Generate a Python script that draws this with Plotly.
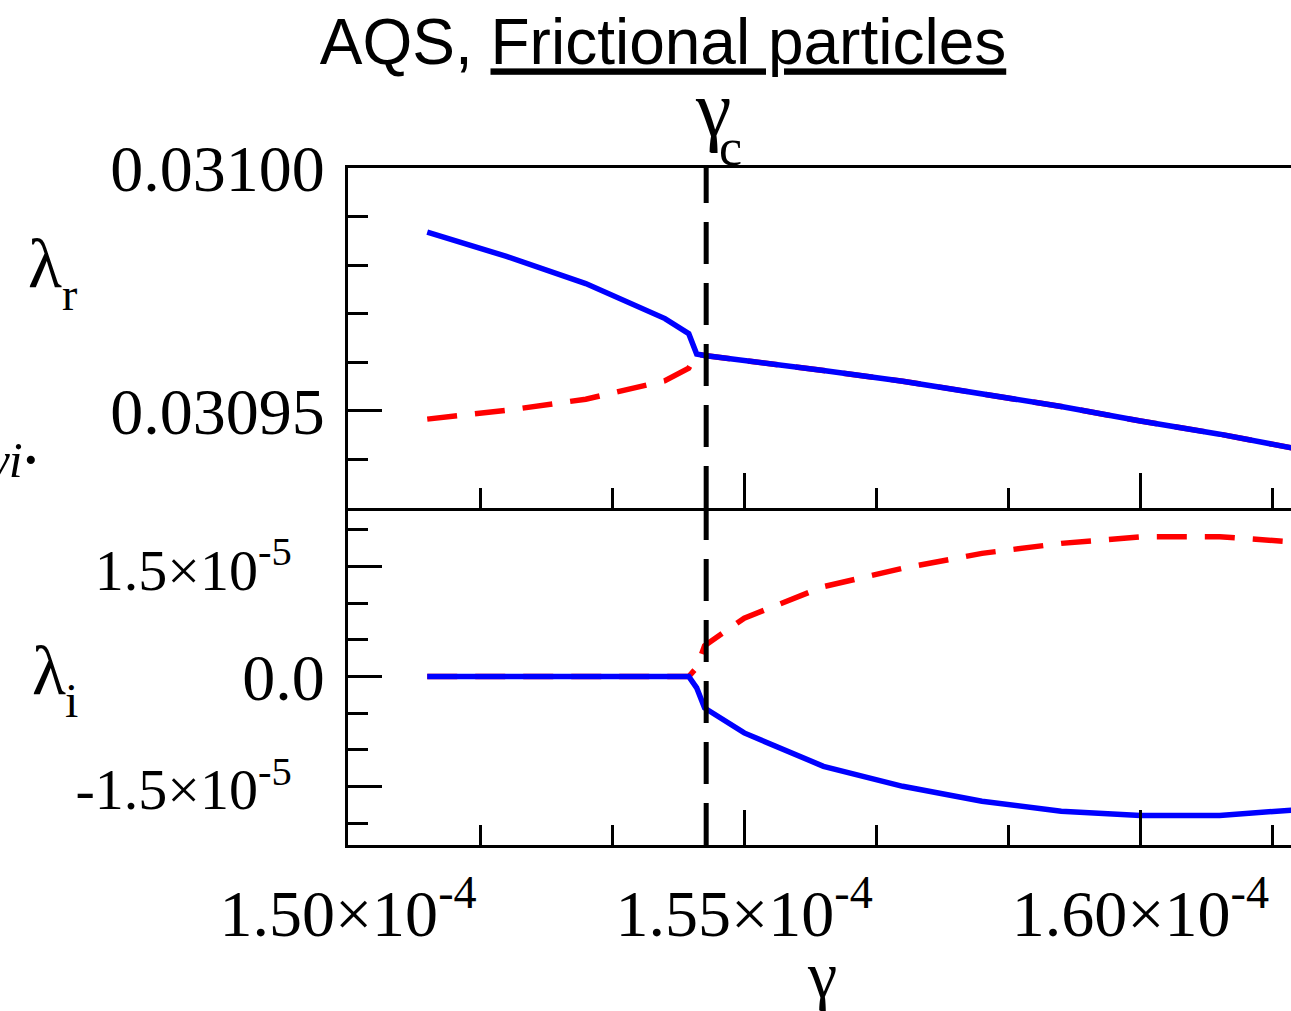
import plotly.graph_objects as go

# ---- data ----
gamma = [1.51e-4, 1.52e-4, 1.53e-4, 1.54e-4, 1.543e-4, 1.544e-4, 1.545e-4,
         1.55e-4, 1.56e-4, 1.57e-4, 1.58e-4, 1.59e-4, 1.60e-4, 1.61e-4, 1.62e-4]

lam_r_blue = [0.0309868, 0.0309818, 0.0309762, 0.0309690, 0.0309659, 0.0309617, 0.0309614,
              0.0309604, 0.0309583, 0.0309561, 0.0309536, 0.0309509, 0.0309479, 0.0309452, 0.0309421]
lam_r_red = [0.0309483, 0.0309501, 0.0309524, 0.0309562, 0.0309588, 0.0309617, 0.0309614,
             0.0309604, 0.0309583, 0.0309561, 0.0309536, 0.0309509, 0.0309479, 0.0309452, 0.0309421]

lam_i_blue = [0, 0, 0, 0, 0, -1.55e-6, -4.3e-6,
              -7.7e-6, -1.226e-5, -1.499e-5, -1.703e-5, -1.839e-5, -1.898e-5, -1.898e-5, -1.816e-5]
lam_i_red = [0, 0, 0, 0, 0, 1.2e-6, 4.2e-6,
             7.96e-6, 1.226e-5, 1.477e-5, 1.681e-5, 1.817e-5, 1.907e-5, 1.907e-5, 1.831e-5]

gamma_c = 1.5452e-4

x_tickvals = [1.50e-4, 1.55e-4, 1.60e-4]
x_ticktext = ["1.50×10<sup>-4</sup>", "1.55×10<sup>-4</sup>", "1.60×10<sup>-4</sup>"]
yi_tickvals = [-1.5e-5, 0.0, 1.5e-5]
yi_ticktext = ['<span style="font-size:58px">-1.5×10<sup>-5</sup></span>&nbsp;&nbsp;',
               "0.0",
               '<span style="font-size:58px">1.5×10<sup>-5</sup></span>&nbsp;&nbsp;']

SERIF = "Liberation Serif, Times New Roman, serif"
SANS = "Liberation Sans, Arial, sans-serif"
FS = 66

fig = go.Figure()

# top panel (lambda_r)
fig.add_trace(go.Scatter(x=gamma, y=lam_r_red, mode="lines", xaxis="x2", yaxis="y2",
                         line=dict(color="#ff0000", width=5.5, dash="30px,18px")))
fig.add_trace(go.Scatter(x=gamma, y=lam_r_blue, mode="lines", xaxis="x2", yaxis="y2",
                         line=dict(color="#0000ff", width=5.5)))
# bottom panel (lambda_i)
fig.add_trace(go.Scatter(x=gamma, y=lam_i_red, mode="lines", xaxis="x", yaxis="y",
                         line=dict(color="#ff0000", width=5.5, dash="30px,18px")))
fig.add_trace(go.Scatter(x=gamma, y=lam_i_blue, mode="lines", xaxis="x", yaxis="y",
                         line=dict(color="#0000ff", width=5.5)))

H_TOP, H_BOT = 340, 337
split = H_BOT / (H_TOP + H_BOT)
xr = [1.50e-4, 1.619e-4]

common_axis = dict(showline=True, linewidth=3, linecolor="black", showgrid=False,
                   zeroline=False, ticks="inside", tickwidth=3, tickcolor="black",
                   automargin=False)

fig.update_layout(
    width=1291, height=1011,
    margin=dict(l=348, r=0, t=168, b=166),
    plot_bgcolor="white", paper_bgcolor="white",
    showlegend=False,
    title=dict(text="AQS, <u>Frictional particles</u>", x=663 / 1291, xanchor="center",
               xref="container", y=1 - 42 / 1011, yanchor="middle", yref="container",
               font=dict(family=SANS, size=64, color="black")),
    xaxis=dict(**common_axis, domain=[0, 1], range=xr, anchor="y", mirror=False,
               tickmode="array", tickvals=x_tickvals, ticktext=x_ticktext, ticklen=35,
               tickfont=dict(family=SERIF, size=FS, color="black"), ticklabelstandoff=9,
               minor=dict(tickmode="linear", tick0=1.5e-4, dtick=5e-6 / 3, ticklen=20,
                          tickwidth=3, tickcolor="black", ticks="inside")),
    xaxis2=dict(**common_axis, domain=[0, 1], range=xr, anchor="y2", matches="x",
                mirror=True, showticklabels=False,
                tickmode="linear", tick0=1.5e-4, dtick=5e-6, ticklen=35,
                minor=dict(tickmode="linear", tick0=1.5e-4, dtick=5e-6 / 3, ticklen=20,
                           tickwidth=3, tickcolor="black", ticks="inside")),
    yaxis=dict(**common_axis, domain=[0, split], range=[-2.3e-5, 2.3e-5], anchor="x",
               tickmode="array", tickvals=yi_tickvals, ticktext=yi_ticktext, ticklen=34,
               tickfont=dict(family=SERIF, size=FS, color="black"), ticklabelstandoff=7,
               minor=dict(tickmode="linear", tick0=0, dtick=5e-6, ticklen=20,
                          tickwidth=3, tickcolor="black", ticks="inside")),
    yaxis2=dict(**common_axis, domain=[split, 1], range=[0.03093, 0.03100], anchor="x2",
                tickmode="linear", tick0=0.03095, dtick=5e-5, tickformat=".5f", ticklen=34,
                tickfont=dict(family=SERIF, size=FS, color="black"), ticklabelstandoff=7,
                minor=dict(tickmode="linear", tick0=0.03095, dtick=1e-5, ticklen=20,
                           tickwidth=3, tickcolor="black", ticks="inside")),
)

# critical strain dashed lines (one per panel, dash pattern starting at the bottom)
for xref, yref in (("x", "y domain"), ("x2", "y2 domain")):
    fig.add_shape(type="line", xref=xref, yref=yref, x0=gamma_c, x1=gamma_c, y0=0, y1=1,
                  line=dict(color="black", width=5, dash="42px,19px"), layer="above")

W, H0 = 943.0, 677.0
def px(xp):
    return (xp - 348) / W
def py(yp):
    return (845 - yp) / H0

def label(text, x, y, size, xanchor="left"):
    fig.add_annotation(text=text, xref="paper", yref="paper", x=px(x), y=py(y),
                       xanchor=xanchor, yanchor="middle", showarrow=False,
                       font=dict(family=SERIF, size=size, color="black"))

# lambda_r
label("λ", 26, 263, 70)
label("r", 60, 294, 46)
# lambda_i
label("λ", 30, 670, 70)
label("i", 63, 700, 48)
# gamma_c above the dashed line
label("γ", 713, 109, 80, xanchor="center")
label("c", 730, 148, 52, xanchor="center")
# x-axis title
label("γ", 822, 974, 66, xanchor="center")
# partially visible text at the left edge
fig.add_annotation(text="<i>γi</i><b>·</b>", xref="paper", yref="paper", x=px(41), y=py(460),
                   xanchor="right", yanchor="middle", showarrow=False,
                   font=dict(family=SERIF, size=50, color="black"))

fig.write_html("out.html")
